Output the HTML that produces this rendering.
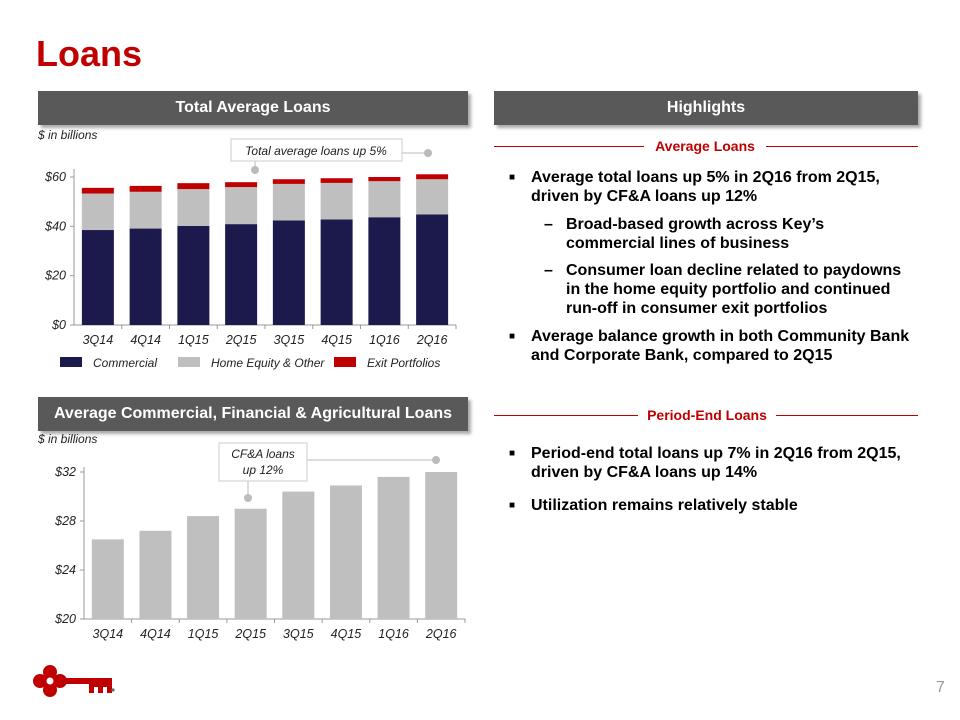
<!DOCTYPE html>
<html><head><meta charset="utf-8"><style>
body{margin:0;width:960px;height:720px;background:#fff;position:relative;overflow:hidden;font-family:"Liberation Sans",Arial,sans-serif}
.a{position:absolute}
.hdr{position:absolute;background:#595959;color:#fff;font-weight:bold;font-size:16px;text-align:center;line-height:34px;box-shadow:3px 3px 3px #aaa}
.sec{position:absolute;color:#c00000;font-weight:bold;font-size:14px;text-align:center}
.txt{position:absolute;font-weight:bold;font-size:16px;line-height:19px;color:#000}
.txt .m{position:absolute;left:-22px;font-size:10px}
</style></head><body>
<div class="a" style="left:36px;top:33px;font-size:36px;font-weight:bold;color:#c00000">Loans</div>
<div class="hdr" style="left:38px;top:91px;width:430px;height:34px">Total Average Loans</div>
<div class="hdr" style="left:494px;top:91px;width:424px;height:34px">Highlights</div>
<div class="hdr" style="left:38px;top:397px;width:430px;height:34px">Average Commercial, Financial &amp; Agricultural Loans</div>

<div class="a" style="left:494px;top:146px;width:150px;height:1px;background:#c00000"></div>
<div class="a" style="left:766px;top:146px;width:152px;height:1px;background:#c00000"></div>
<div class="sec" style="left:644px;top:138px;width:122px">Average Loans</div>
<div class="a" style="left:494px;top:415px;width:144px;height:1px;background:#c00000"></div>
<div class="a" style="left:776px;top:415px;width:142px;height:1px;background:#c00000"></div>
<div class="sec" style="left:638px;top:407px;width:138px">Period-End Loans</div>

<div class="txt" style="left:531px;top:168px;width:390px"><span class="m">■</span>Average total loans up 5% in 2Q16 from 2Q15, driven by CF&amp;A loans up 12%</div>
<div class="txt" style="left:566px;top:215px;width:350px"><span class="m" style="font-size:16px">–</span>Broad-based growth across Key’s commercial lines of business</div>
<div class="txt" style="left:566px;top:261px;width:350px"><span class="m" style="font-size:16px">–</span>Consumer loan decline related to paydowns in the home equity portfolio and continued run-off in consumer exit portfolios</div>
<div class="txt" style="left:531px;top:327px;width:390px"><span class="m">■</span>Average balance growth in both Community Bank and Corporate Bank, compared to 2Q15</div>
<div class="txt" style="left:531px;top:444px;width:390px"><span class="m">■</span>Period-end total loans up 7% in 2Q16 from 2Q15, driven by CF&amp;A loans up 14%</div>
<div class="txt" style="left:531px;top:496px;width:390px"><span class="m">■</span>Utilization remains relatively stable</div>

<div class="a" style="left:936px;top:679px;font-size:16px;color:#999">7</div>

<svg class="a" style="left:0;top:0" width="960" height="720" id="chart">
<g id="logo" fill="#c00000">
<circle cx="40" cy="681" r="7"/><circle cx="50" cy="672" r="7"/><circle cx="50" cy="690" r="7"/><circle cx="60" cy="681" r="7"/>
<rect x="45" y="676" width="10" height="10"/>
<circle cx="50" cy="681" r="3.5" fill="#fff"/>
<rect x="62" y="678" width="50" height="6"/>
<rect x="89" y="684" width="5" height="9"/><rect x="98" y="684" width="5" height="9"/><rect x="107" y="684" width="5" height="9"/>
<rect x="89" y="684" width="23" height="3"/>
<circle cx="113" cy="690" r="1.6" fill="#666"/>
</g>
</svg>
<script>
const cats=["3Q14","4Q14","1Q15","2Q15","3Q15","4Q15","1Q16","2Q16"];
const commercial=[38.5,39.1,40.2,40.9,42.4,42.8,43.7,44.8];
const homeEquity=[14.8,14.9,14.9,15.0,14.8,14.8,14.6,14.3];
const exitPortfolios=[2.3,2.4,2.4,2.0,1.9,1.9,1.7,2.0];
const ticks1=[0,20,40,60];
const cfa=[26.5,27.2,28.4,29.0,30.4,30.9,31.6,32.0];
const ticks2=[20,24,28,32];
const svg=document.getElementById('chart');const NS='http://www.w3.org/2000/svg';
function mk(t,a,p){const e=document.createElementNS(NS,t);for(const k in a)e.setAttribute(k,a[k]);(p||svg).appendChild(e);return e;}
function txt(x,y,s,anchor,size,p,italic){const e=mk('text',{x:x,y:y,'text-anchor':anchor||'middle','font-size':size||12,fill:'#222','font-family':'Liberation Sans,Arial,sans-serif','font-style':italic===false?'normal':'italic'},p);e.textContent=s;return e;}
// Chart 1
const c1={x0:74,x1:456,y0:325,yTop:177,min:0,max:60};
const y1=v=>c1.y0-(v-c1.min)/(c1.max-c1.min)*(c1.y0-c1.yTop);
const band1=(c1.x1-c1.x0)/cats.length;const x1=i=>c1.x0+band1*i+(band1-32)/2;
const g1=mk('g',{});


mk('line',{x1:c1.x0,y1:c1.yTop-8,x2:c1.x0,y2:c1.y0,stroke:'#999'},g1);
mk('line',{x1:c1.x0,y1:c1.y0,x2:c1.x1,y2:c1.y0,stroke:'#999'},g1);
ticks1.forEach(t=>{mk('line',{x1:c1.x0-4,y1:y1(t),x2:c1.x0,y2:y1(t),stroke:'#999'},g1);const e=txt(c1.x0-8,y1(t)+4,'$'+t,'end',12.5,g1);});
cats.forEach((c,i)=>{
 let b=0;[[commercial,'#1c1a4d','bar-commercial'],[homeEquity,'#bfbfbf','bar-home-equity'],[exitPortfolios,'#c00000','bar-exit-portfolios']].forEach(([arr,col,n])=>{
  const r=mk('rect',{x:x1(i),y:y1(b+arr[i]),width:32,height:y1(b)-y1(b+arr[i]),fill:col},g1);
  
  
  b+=arr[i];});
 mk('line',{x1:c1.x0+band1*(i+1),y1:c1.y0,x2:c1.x0+band1*(i+1),y2:c1.y0+4,stroke:'#999'},g1);
 const l=txt(x1(i)+16,c1.y0+19,c,'middle',12.5,g1);
 
});
txt(38,139,'$ in billions','start',12,g1);
[[60,'#1c1a4d','Commercial'],[178,'#bfbfbf','Home Equity & Other'],[334,'#c00000','Exit Portfolios']].forEach(([x,c,s])=>{
 const r=mk('rect',{x:x,y:357,width:22,height:10,fill:c},g1);
 
 const t=txt(x+33,367,s,'start',12,g1);
 
});
mk('line',{x1:402,y1:153,x2:428,y2:153,stroke:'#bbb'},g1);
mk('line',{x1:255,y1:160,x2:255,y2:168,stroke:'#bbb'},g1);
mk('circle',{cx:428,cy:153,r:4,fill:'#bbb'},g1);mk('circle',{cx:255,cy:170,r:4,fill:'#bbb'},g1);
const cb1=mk('rect',{x:231,y:139,width:171,height:22,fill:'#fff',stroke:'#ccc'},g1);

txt(316,155,'Total average loans up 5%','middle',12,g1);
// Chart 2
const c2={x0:84,x1:465,y0:619,yTop:472,min:20,max:32};
const y2=v=>c2.y0-(v-c2.min)/(c2.max-c2.min)*(c2.y0-c2.yTop);
const band2=(c2.x1-c2.x0)/cats.length;const x2=i=>c2.x0+band2*i+(band2-32)/2;
const g2=mk('g',{});


mk('line',{x1:c2.x0,y1:c2.yTop-5,x2:c2.x0,y2:c2.y0,stroke:'#999'},g2);
mk('line',{x1:c2.x0,y1:c2.y0,x2:c2.x1,y2:c2.y0,stroke:'#999'},g2);
ticks2.forEach(t=>{mk('line',{x1:c2.x0-4,y1:y2(t),x2:c2.x0,y2:y2(t),stroke:'#999'},g2);const e=txt(c2.x0-8,y2(t)+4,'$'+t,'end',12.5,g2);});
cats.forEach((c,i)=>{
 const r=mk('rect',{x:x2(i),y:y2(cfa[i]),width:32,height:c2.y0-y2(cfa[i]),fill:'#bfbfbf'},g2);
 
 
 mk('line',{x1:c2.x0+band2*(i+1),y1:c2.y0,x2:c2.x0+band2*(i+1),y2:c2.y0+4,stroke:'#999'},g2);
 const l=txt(x2(i)+16,c2.y0+19,c,'middle',12.5,g2);
 
});
txt(38,443,'$ in billions','start',12,g2);
mk('line',{x1:307,y1:460,x2:436,y2:460,stroke:'#bbb'},g2);
mk('line',{x1:248,y1:478,x2:248,y2:494,stroke:'#bbb'},g2);
mk('circle',{cx:436,cy:460,r:4,fill:'#bbb'},g2);mk('circle',{cx:248,cy:498,r:4,fill:'#bbb'},g2);
const cb2=mk('rect',{x:219,y:443,width:88,height:38,fill:'#fff',stroke:'#ccc'},g2);

txt(263,458,'CF&A loans','middle',12,g2);txt(263,474,'up 12%','middle',12,g2);
</script>
</body></html>
